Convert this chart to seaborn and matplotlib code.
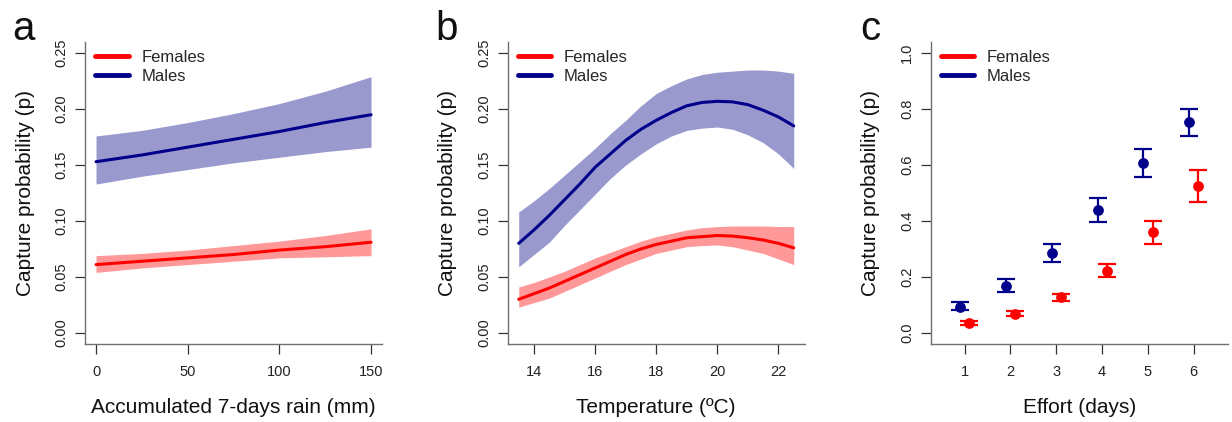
import numpy as np
import pandas as pd
import matplotlib
matplotlib.use("Agg")
import matplotlib.pyplot as plt
from matplotlib.lines import Line2D
import seaborn as sns

# --- data ---

# panel a: accumulated 7-days rain (mm)
rain = [0, 25, 50, 75, 100, 125, 150]
rain_m = [0.153, 0.159, 0.166, 0.173, 0.180, 0.188, 0.195]
rain_m_hi = [0.176, 0.181, 0.188, 0.196, 0.205, 0.216, 0.229]
rain_m_lo = [0.133, 0.140, 0.146, 0.152, 0.157, 0.162, 0.166]
rain_f = [0.061, 0.064, 0.067, 0.070, 0.074, 0.077, 0.081]
rain_f_hi = [0.069, 0.071, 0.074, 0.078, 0.082, 0.087, 0.093]
rain_f_lo = [0.054, 0.058, 0.061, 0.064, 0.067, 0.068, 0.069]

# panel b: temperature (C)
temp = [13.5, 14, 14.5, 15, 15.5, 16, 16.5, 17, 17.5, 18, 18.5,
        19, 19.5, 20, 20.5, 21, 21.5, 22, 22.5]
temp_m = [0.080, 0.092, 0.105, 0.119, 0.133, 0.148, 0.160, 0.172, 0.182, 0.190,
          0.197, 0.203, 0.206, 0.207, 0.2065, 0.204, 0.199, 0.193, 0.185]
temp_m_hi = [0.108, 0.118, 0.129, 0.141, 0.153, 0.165, 0.178, 0.190, 0.203, 0.214,
             0.221, 0.227, 0.231, 0.233, 0.234, 0.235, 0.235, 0.234, 0.232]
temp_m_lo = [0.059, 0.070, 0.081, 0.096, 0.110, 0.124, 0.138, 0.150, 0.160, 0.169,
             0.176, 0.181, 0.183, 0.184, 0.182, 0.177, 0.170, 0.160, 0.147]
temp_f = [0.030, 0.035, 0.040, 0.046, 0.052, 0.058, 0.064, 0.070, 0.075, 0.079,
          0.082, 0.085, 0.086, 0.087, 0.0865, 0.085, 0.083, 0.080, 0.076]
temp_f_hi = [0.041, 0.045, 0.050, 0.055, 0.061, 0.067, 0.072, 0.077, 0.082, 0.086,
             0.089, 0.092, 0.094, 0.095, 0.0955, 0.0955, 0.0955, 0.095, 0.095]
temp_f_lo = [0.023, 0.027, 0.031, 0.037, 0.043, 0.049, 0.055, 0.061, 0.066, 0.071,
             0.074, 0.077, 0.078, 0.0785, 0.077, 0.074, 0.071, 0.066, 0.061]

# panel c: effort (days)
effort = [1, 2, 3, 4, 5, 6]
eff_m = [0.093, 0.169, 0.285, 0.439, 0.608, 0.754]
eff_m_hi = [0.109, 0.192, 0.317, 0.483, 0.657, 0.799]
eff_m_lo = [0.081, 0.146, 0.255, 0.398, 0.558, 0.704]
eff_f = [0.036, 0.069, 0.127, 0.220, 0.359, 0.525]
eff_f_hi = [0.044, 0.077, 0.139, 0.246, 0.401, 0.584]
eff_f_lo = [0.027, 0.059, 0.115, 0.198, 0.318, 0.467]

RED = "#FF0000"
BLUE = "#00008B"
RED_FILL = "#FF9999"
BLUE_FILL = "#9999CE"

sns.set_style("ticks")
plt.rcParams["font.family"] = ["Liberation Sans", "DejaVu Sans"]

fig = plt.figure(figsize=(12.32, 4.22), dpi=100)
bottom, height, width = 0.1848, 0.7156, 0.2411
axes = [fig.add_axes([left, bottom, width, height]) for left in (0.0690, 0.4121, 0.7554)]


def style_axis(ax, xlabel):
    for side in ("top", "right"):
        ax.spines[side].set_visible(False)
    for side in ("left", "bottom"):
        ax.spines[side].set_color("#707070")
        ax.spines[side].set_linewidth(1.0)
    ax.tick_params(axis="both", length=7, width=0.9, color="#333333",
                   labelsize=10.5, labelcolor="#222222")
    ax.tick_params(axis="x", pad=8)
    ax.tick_params(axis="y", pad=5)
    for lab in ax.get_yticklabels():
        lab.set_rotation(90)
        lab.set_va("center")
    ax.set_ylabel("Capture probability (p)", fontsize=15, color="#111111")
    ax.set_xlabel(xlabel, fontsize=15, color="#111111")
    ax.yaxis.set_label_coords(-0.17, 0.5)
    ax.xaxis.set_label_coords(0.5, -0.178)
    handles = [Line2D([], [], color=RED, lw=3.5, solid_capstyle="round"),
               Line2D([], [], color=BLUE, lw=3.5, solid_capstyle="round")]
    ax.legend(handles, ["Females", "Males"], loc="upper left",
              bbox_to_anchor=(0.035, 0.975), frameon=False, fontsize=12,
              handlelength=2.0, handletextpad=0.75, labelspacing=0.25,
              borderpad=0, borderaxespad=0)


def band_panel(ax, x, m, m_hi, m_lo, f, f_hi, f_lo, xname):
    df = pd.DataFrame({xname: x + x, "p": m + f,
                       "sex": ["Males"] * len(x) + ["Females"] * len(x)})
    ax.fill_between(x, m_lo, m_hi, color=BLUE_FILL, lw=0)
    ax.fill_between(x, f_lo, f_hi, color=RED_FILL, lw=0)
    sns.lineplot(data=df, x=xname, y="p", hue="sex",
                 palette={"Males": BLUE, "Females": RED},
                 linewidth=2.2, legend=False, ax=ax)


# panel a
ax = axes[0]
band_panel(ax, rain, rain_m, rain_m_hi, rain_m_lo,
           rain_f, rain_f_hi, rain_f_lo, "rain")
ax.set_xlim(-6, 156)
ax.set_ylim(-0.01, 0.26)
ax.set_xticks([0, 50, 100, 150])
ax.set_yticks([0, 0.05, 0.10, 0.15, 0.20, 0.25])
ax.set_yticklabels(["0.00", "0.05", "0.10", "0.15", "0.20", "0.25"])
style_axis(ax, "Accumulated 7-days rain (mm)")

# panel b
ax = axes[1]
band_panel(ax, temp, temp_m, temp_m_hi, temp_m_lo,
           temp_f, temp_f_hi, temp_f_lo, "temp")
ax.set_xlim(13.14, 22.86)
ax.set_ylim(-0.01, 0.26)
ax.set_xticks([14, 16, 18, 20, 22])
ax.set_yticks([0, 0.05, 0.10, 0.15, 0.20, 0.25])
ax.set_yticklabels(["0.00", "0.05", "0.10", "0.15", "0.20", "0.25"])
style_axis(ax, "Temperature (ºC)")

# panel c
ax = axes[2]
xm = np.array(effort) - 0.1
xf = np.array(effort) + 0.1
for xs, y, lo, hi, col in ((xm, eff_m, eff_m_lo, eff_m_hi, BLUE),
                           (xf, eff_f, eff_f_lo, eff_f_hi, RED)):
    yerr = [np.array(y) - np.array(lo), np.array(hi) - np.array(y)]
    ax.errorbar(xs, y, yerr=yerr, fmt="none", ecolor=col, elinewidth=1.6,
                capsize=6.5, capthick=1.6)
    sns.scatterplot(x=xs, y=y, color=col, s=60, edgecolor=col, linewidth=0,
                    ax=ax, zorder=3)
ax.set_xlim(0.26, 6.74)
ax.set_ylim(-0.04, 1.04)
ax.set_xticks(effort)
ax.set_yticks([0, 0.2, 0.4, 0.6, 0.8, 1.0])
ax.set_yticklabels(["0.0", "0.2", "0.4", "0.6", "0.8", "1.0"])
style_axis(ax, "Effort (days)")

# panel letters
for xpos, letter in ((0.010, "a"), (0.353, "b"), (0.698, "c")):
    fig.text(xpos, 0.905, letter, fontsize=29, ha="left", va="baseline",
             color="#111111")

fig.savefig("out.png", dpi=100)
